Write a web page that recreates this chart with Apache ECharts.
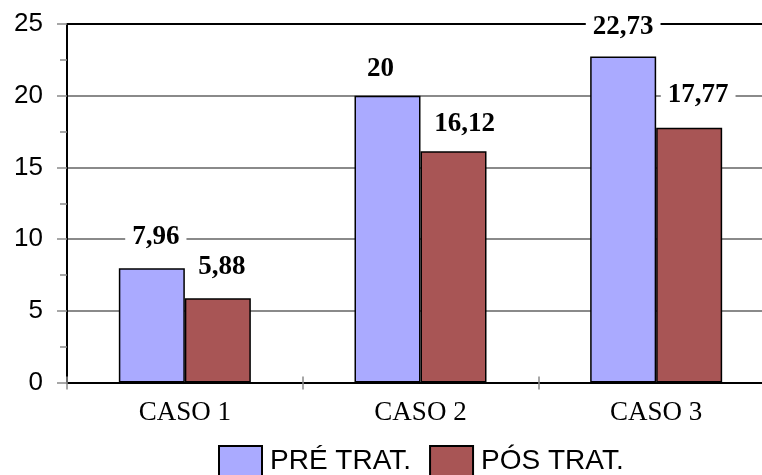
<!DOCTYPE html>
<html>
<head>
<meta charset="utf-8">
<script src="https://cdn.jsdelivr.net/npm/echarts@6/dist/echarts.min.js"></script>
<style>
  html, body { margin: 0; padding: 0; background: #fff; }
  #chart { width: 762px; height: 475px; }
</style>
</head>
<body>
<div id="chart"></div>
<script>
// Cases and measured values before / after treatment
const categories = ['CASO 1', 'CASO 2', 'CASO 3'];
const preValues = [7.96, 20, 22.73];
const posValues = [5.88, 16.12, 17.77];
const seriesNames = ['PRÉ TRAT.', 'PÓS TRAT.'];
const yTicks = { min: 0, max: 25, interval: 5 };

// Hand-placed value labels: [dx, dy] nudges relative to the top of each bar
const preLabelShift = [[4, -18], [-7, -13], [0, -16]];
const posLabelShift = [[4, -18], [11, -14], [9, -19]];

const tickGray = '#8a8a8a';
const fmt = v => String(v).replace('.', ',');

function barData(values, shifts) {
  return values.map((v, i) => ({
    value: v,
    label: { offset: shifts[i] }
  }));
}

const valueLabel = {
  show: true,
  position: 'top',
  distance: 0,
  formatter: p => fmt(p.value),
  fontFamily: 'Liberation Serif',
  fontWeight: 'bold',
  fontSize: 27,
  lineHeight: 27,
  color: '#000',
  backgroundColor: '#fff',
  padding: [0, 7]
};

const chart = echarts.init(document.getElementById('chart'), null, { renderer: 'canvas' });

chart.setOption({
  animation: false,
  backgroundColor: '#fff',
  grid: {
    left: 67, top: 24, width: 707, height: 358.5,
    containLabel: false,
    outerBoundsMode: 'none'
  },
  legend: {
    data: seriesNames,
    left: 218,
    top: 445,
    padding: 0,
    itemWidth: 43,
    itemHeight: 30,
    itemGap: 18,
    icon: 'rect',
    textStyle: { fontFamily: 'Liberation Sans', fontSize: 28, color: '#000', padding: [0, 0, 0, 3] }
  },
  xAxis: [
    {
      type: 'category',
      data: categories,
      position: 'bottom',
      axisLine: { show: true, lineStyle: { color: '#000', width: 2 } },
      axisTick: { show: true, inside: false, length: 7, lineStyle: { color: tickGray, width: 1.5 } },
      axisLabel: { fontFamily: 'Liberation Serif', fontSize: 27, color: '#000', margin: 17 },
      splitLine: { show: false }
    },
    {
      type: 'category',
      data: categories,
      position: 'bottom',
      offset: 0,
      axisLine: { show: false },
      axisTick: { show: true, inside: true, length: 6, lineStyle: { color: tickGray, width: 1.5 } },
      axisLabel: { show: false },
      splitLine: { show: false }
    }
  ],
  yAxis: [
    {
      type: 'value',
      min: yTicks.min,
      max: yTicks.max,
      interval: yTicks.interval,
      position: 'left',
      axisLine: { show: true, lineStyle: { color: '#000', width: 2 } },
      axisTick: { show: true, inside: false, length: 10, lineStyle: { color: tickGray, width: 1.5 } },
      minorTick: { show: true, splitNumber: 2, length: 7, lineStyle: { color: tickGray, width: 1.5 } },
      axisLabel: { fontFamily: 'Liberation Sans', fontSize: 26, color: '#000', margin: 24 },
      splitLine: {
        show: true,
        lineStyle: { color: [tickGray, tickGray, tickGray, tickGray, tickGray, '#000'], width: 2 }
      }
    },
    {
      type: 'value',
      min: yTicks.min,
      max: yTicks.max,
      interval: yTicks.interval,
      position: 'left',
      offset: 0,
      axisLine: { show: false },
      axisTick: { show: false },
      minorTick: { show: true, splitNumber: 2, length: 6, lineStyle: { color: tickGray, width: 1.5 } },
      axisLabel: { show: false },
      splitLine: { show: false }
    }
  ],
  series: [
    {
      name: seriesNames[0],
      type: 'bar',
      data: barData(preValues, preLabelShift),
      barWidth: 66,
      barGap: '0%',
      itemStyle: { color: '#aaaaff', borderColor: '#000', borderWidth: 1.5 },
      label: valueLabel,
      z: 3
    },
    {
      name: seriesNames[1],
      type: 'bar',
      data: barData(posValues, posLabelShift),
      barWidth: 66,
      barGap: '0%',
      itemStyle: { color: '#a85555', borderColor: '#000', borderWidth: 1.5 },
      label: valueLabel,
      z: 3
    }
  ]
});
</script>
</body>
</html>
